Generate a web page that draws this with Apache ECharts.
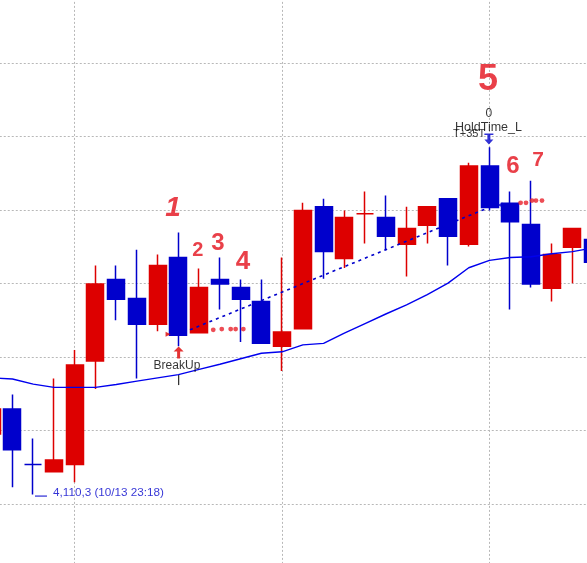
<!DOCTYPE html>
<html><head><meta charset="utf-8">
<script src="https://cdn.jsdelivr.net/npm/echarts@6/dist/echarts.min.js"></script>
<style>html,body{margin:0;padding:0;background:#fff;overflow:hidden;width:587px;height:563px}
#c{position:absolute;left:-10px;top:-12px;width:612px;height:592px}</style>
</head><body><div id="c"></div>
<script>
// ---- data ----
const times = ['23:16','23:17','23:18','23:19','23:20','23:21','23:22','23:23','23:24','23:25',
  '23:26','23:27','23:28','23:29','23:30','23:31','23:32','23:33','23:34','23:35',
  '23:36','23:37','23:38','23:39','23:40','23:41','23:42','23:43','23:44','23:45'];
const opens  = [4111.90,4112.58,4111.07,4110.87,4111.07,4113.89,4116.11,4115.59,4114.89,4116.71,
  4114.66,4116.11,4115.89,4115.51,4114.29,4114.77,4118.09,4116.68,4117.90,4117.80,
  4117.07,4117.59,4118.31,4117.07,4119.20,4118.19,4117.61,4115.87,4116.99,4117.20];
const closes = [4112.58,4111.47,4111.07,4111.19,4113.78,4115.99,4115.57,4114.89,4116.49,4114.59,
  4115.89,4115.99,4115.57,4114.37,4114.68,4117.99,4116.87,4117.80,4117.90,4117.29,
  4117.50,4118.09,4117.29,4119.20,4118.07,4117.68,4115.99,4116.79,4117.50,4116.58];
const lows   = [4111.60,4110.45,4110.25,4110.87,4110.59,4113.13,4115.00,4113.41,4114.70,4114.29,
  4114.66,4115.29,4114.41,4114.37,4113.62,4114.77,4116.13,4116.42,4117.09,4116.91,
  4116.19,4117.09,4116.49,4117.01,4117.99,4115.29,4115.89,4115.51,4116.01,4116.40];
const highs  = [4112.90,4112.98,4111.78,4113.41,4114.19,4116.49,4116.49,4116.92,4116.79,4117.39,
  4116.41,4116.71,4116.11,4116.11,4116.71,4118.20,4118.31,4117.99,4118.51,4118.40,
  4118.09,4118.09,4118.31,4119.29,4119.71,4118.51,4118.80,4117.09,4117.50,4117.30];
const maValues = [4113.43,4113.40,4113.26,4113.17,4113.17,4113.17,4113.25,4113.34,4113.43,4113.52,
  4113.66,4113.80,4113.95,4114.10,4114.14,4114.33,4114.37,4114.65,4114.91,4115.17,
  4115.42,4115.70,4116.01,4116.43,4116.63,4116.71,4116.73,4116.81,4116.87,4116.97];
// trend line (bar-index, price)
const trendX = [9.558, 23.88];
const trendY = [4114.74, 4118.05];
// red dotted stop marks
const dotX = [10.68,11.09,11.52,11.76,12.13, 25.50,25.76,26.05,26.24,26.53];
const dotY = [4114.74,4114.76,4114.76,4114.76,4114.76, 4118.20,4118.20,4118.26,4118.26,4118.26];
// hand-written step numbers
const noteText = ['1','2','3','4','5','6','7'];
const noteX = [8.74, 9.94, 10.91, 12.11, 23.93, 25.13, 26.34];
const noteY = [4118.06, 4116.91, 4117.10, 4116.59, 4121.54, 4119.20, 4119.37];
// signal texts
const tagText = ['BreakUp','0','HoldTime_L','T+35T'];
const tagX = [8.93, 23.97, 23.95, 22.24];
const tagY = [4113.75, 4120.63, 4120.26, 4120.07];
// low info
const lowText = '4,110,3 (10/13 23:18)';
const lowX = 2.953, lowY = 4110.31;
const lowArrowX = [2.085, 2.663];
const lowArrowY = 4110.21;
// signal markers
const upArrow = [9.01, 4114.12];
const downArrow = [23.97, 4119.94];
const tick = [9.01, 4113.37];
const redTri = [8.50, 4114.62];
const blueTri = [24.51, 4118.14];
const yTicks = [4108, 4124, 2];

// ---- styles ----
const RED = '#dd0000', BLUE = '#0000cc', NOTE = '#e3101c';
const noteSize = [28, 20, 24, 26, 36, 24, 21];
const tagSize = [12, 12, 12.5, 11];
const tagAlign = ['center','center','center','left'];

const candles = times.map((t, i) => [opens[i], closes[i], lows[i], highs[i]]);

const chart = echarts.init(document.getElementById('c'), null, {renderer: 'canvas'});
chart.setOption({
  animation: false,
  backgroundColor: '#fff',
  grid: {left: 1.76, right: 8.8, top: 1.88, bottom: 2.8, containLabel: false},
  xAxis: [{
    type: 'category', data: times, boundaryGap: false,
    axisLine: {show: false}, axisTick: {show: false}, axisLabel: {show: false},
    splitLine: {show: true, interval: (i) => i % 10 === 4,
      lineStyle: {color: '#b8b8b8', type: [2, 2], width: 1}}
  }, {
    type: 'value', min: 0, max: times.length - 1, show: false
  }],
  yAxis: {
    type: 'value', min: yTicks[0], max: yTicks[1], interval: yTicks[2], scale: true,
    axisLine: {show: false}, axisTick: {show: false}, axisLabel: {show: false},
    splitLine: {show: true, lineStyle: {color: '#b8b8b8', type: [2, 2], width: 1}}
  },
  series: [
    {
      type: 'candlestick', data: candles, barWidth: 17.5,
      itemStyle: {color: RED, color0: BLUE, borderColor: RED, borderColor0: BLUE, borderWidth: 1.5}
    },
    {
      type: 'line', data: maValues, symbol: 'none', smooth: false,
      lineStyle: {color: '#0000ee', width: 1.4}, z: 5
    },
    {
      type: 'line', xAxisIndex: 1, data: trendX.map((x, i) => [x, trendY[i]]), symbol: 'none',
      lineStyle: {color: BLUE, width: 1.6, type: [3, 4]}, z: 5
    },
    {
      type: 'scatter', xAxisIndex: 1, data: dotX.map((x, i) => [x, dotY[i]]),
      symbol: 'circle', symbolSize: 4.8, itemStyle: {color: '#e8202a'}, z: 6
    },
    {
      type: 'line', xAxisIndex: 1, data: lowArrowX.map(x => [x, lowArrowY]), symbol: 'none',
      lineStyle: {color: BLUE, width: 1}, z: 6
    },
    {
      type: 'scatter', xAxisIndex: 1, z: 7,
      data: [
        {value: upArrow, symbol: 'path://M5,0 L10,5 L6.5,5 L6.5,12 L3.5,12 L3.5,5 L0,5 Z', symbolSize: [10, 12], itemStyle: {color: RED}},
        {value: downArrow, symbol: 'path://M0,0 L9,0 L9,1.5 L6,1.5 L6,6 L9,6 L4.5,11 L0,6 L3,6 L3,1.5 L0,1.5 Z', symbolSize: [9, 11], itemStyle: {color: BLUE}},
        {value: tick, symbol: 'rect', symbolSize: [1.3, 10], itemStyle: {color: '#000'}},
        {value: redTri, symbol: 'triangle', symbolSize: 5, symbolRotate: -90, itemStyle: {color: RED}},
        {value: blueTri, symbol: 'triangle', symbolSize: 5, symbolRotate: 90, itemStyle: {color: BLUE}}
      ]
    },
    {
      type: 'scatter', xAxisIndex: 1, symbolSize: 0, z: 8,
      data: noteText.map((t, i) => ({
        value: [noteX[i], noteY[i]],
        label: {show: true, position: 'inside', formatter: t, color: NOTE,
          fontSize: noteSize[i], fontWeight: 'bold', fontFamily: 'Liberation Sans',
          fontStyle: t === '1' ? 'italic' : 'normal'}
      }))
    },
    {
      type: 'scatter', xAxisIndex: 1, symbolSize: 0, z: 8,
      data: tagText.map((t, i) => ({
        value: [tagX[i], tagY[i]],
        label: {show: true, position: 'inside', formatter: t, color: '#000',
          fontSize: tagSize[i], fontFamily: 'Liberation Sans', align: tagAlign[i]}
      })).concat([{
        value: [lowX, lowY],
        label: {show: true, position: 'inside', formatter: lowText, color: BLUE,
          fontSize: 11.7, fontFamily: 'Liberation Sans', align: 'left'}
      }])
    }
  ]
});
</script>
</body></html>
